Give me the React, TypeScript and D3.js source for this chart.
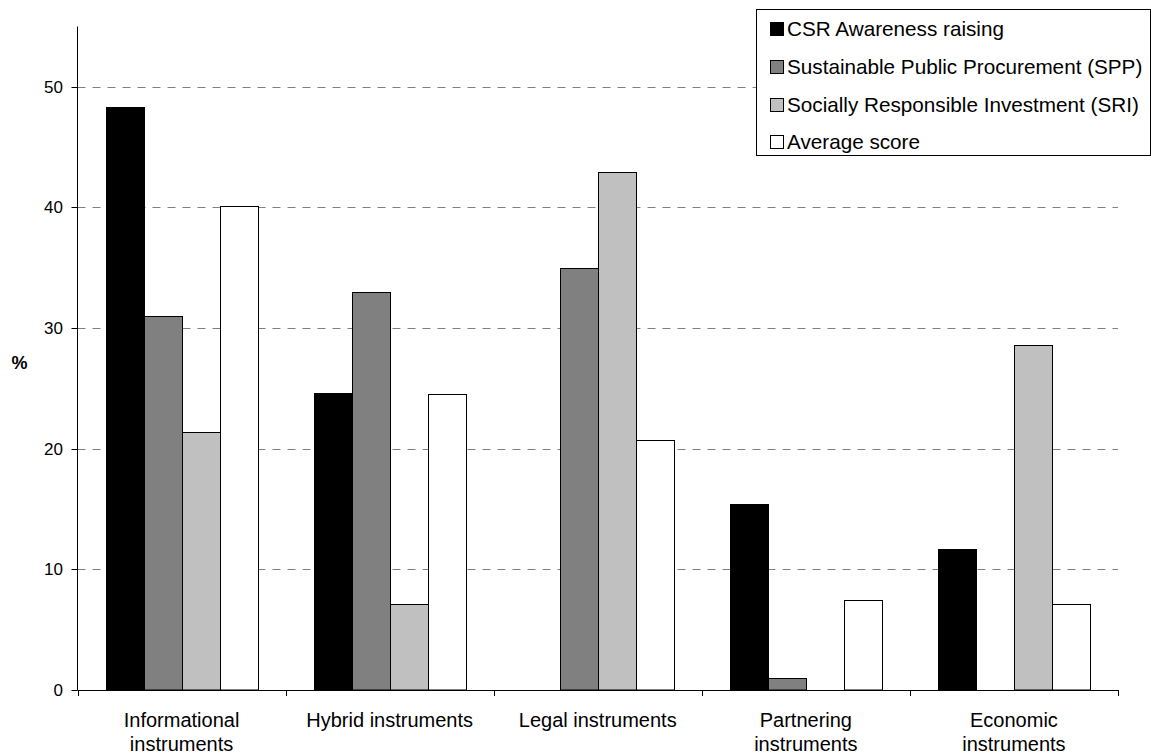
import React from "react";
import * as d3 from "d3";

const categories: string[][] = [
  ["Informational", "instruments"],
  ["Hybrid instruments"],
  ["Legal instruments"],
  ["Partnering", "instruments"],
  ["Economic", "instruments"],
];
const seriesNames = [
  "CSR Awareness raising",
  "Sustainable Public Procurement (SPP)",
  "Socially Responsible Investment (SRI)",
  "Average score",
];
const csr = [48.3, 24.6, 0, 15.4, 11.7];
const spp = [31.0, 33.0, 35.0, 1.0, 0];
const sri = [21.4, 7.1, 42.9, 0, 28.6];
const avg = [40.1, 24.5, 20.7, 7.5, 7.1];
const yTicks = [0, 10, 20, 30, 40, 50];
const colors = ["#000000", "#808080", "#c0c0c0", "#ffffff"];

export default function App() {
  const W = 1151, H = 756;
  const left = 77.5, right = 1118, top = 26.5, bottom = 690;
  const series = [csr, spp, sri, avg];
  const y = d3.scaleLinear().domain([0, 55]).range([bottom, top]);
  const x0 = d3.scaleBand<number>().domain(d3.range(categories.length)).range([left, right]).padding(0);
  const bw = x0.bandwidth();
  const x1 = d3.scaleBand<number>().domain(d3.range(4)).range([bw * 0.135, bw * 0.865]).padding(0);
  const font = "Arial, 'Liberation Sans', sans-serif";
  const legendY = [29, 67, 105, 142];
  return (
    <svg width={W} height={H} style={{ position: "absolute", left: 0, top: 0, background: "#fff" }} fontFamily={font}>
      {yTicks.filter(t => t > 0).map(t => (
        <line key={"g" + t} x1={left} x2={right} y1={Math.round(y(t)) + 0.5} y2={Math.round(y(t)) + 0.5}
          stroke="#808080" strokeDasharray="8,7" strokeWidth={1} />
      ))}
      {series.map((s, si) =>
        s.map((v, ci) => {
          if (v <= 0) return null;
          const bx = Math.round(x0(ci)! + x1(si)!) + 0.5;
          const bx2 = Math.round(x0(ci)! + x1(si)! + x1.bandwidth()) + 0.5;
          const by = Math.round(y(v)) + 0.5;
          return (
            <rect key={si + "-" + ci} x={bx} y={by} width={bx2 - bx} height={bottom - by}
              fill={colors[si]} stroke="#000" strokeWidth={1} />
          );
        })
      )}
      <line x1={left} x2={left} y1={top} y2={bottom} stroke="#000" />
      <line x1={left} x2={right} y1={bottom + 0.5} y2={bottom + 0.5} stroke="#000" />
      {yTicks.map(t => (
        <g key={"t" + t}>
          <line x1={left - 6} x2={left} y1={Math.round(y(t)) + 0.5} y2={Math.round(y(t)) + 0.5} stroke="#000" />
          <text x={63} y={y(t)} dy="0.35em" textAnchor="end" fontSize={17} fill="#000">{t}</text>
        </g>
      ))}
      {d3.range(categories.length + 1).map(i => {
        const tx = Math.round(left + i * bw) + 0.5;
        return <line key={"xt" + i} x1={tx} x2={tx} y1={bottom} y2={bottom + 6} stroke="#000" />;
      })}
      {categories.map((lines, ci) => (
        <text key={"c" + ci} x={x0(ci)! + bw / 2} y={720} textAnchor="middle" fontSize={20} fill="#000">
          {lines.map((l, li) => (
            <tspan key={li} x={x0(ci)! + bw / 2} dy={li === 0 ? "0.35em" : 24}>{l}</tspan>
          ))}
        </text>
      ))}
      <text x={19.5} y={363} dy="0.35em" textAnchor="middle" fontSize={18} fontWeight="bold" fill="#000">%</text>
      <rect x={756.5} y={9.5} width={394} height={146} fill="#fff" stroke="#000" />
      {seriesNames.map((n, i) => (
        <g key={"l" + i}>
          <rect x={770.5} y={legendY[i] - 6.5} width={13} height={13} fill={colors[i]} stroke="#000" />
          <text x={787} y={legendY[i]} dy="0.35em" fontSize={20.7} fill="#000">{n}</text>
        </g>
      ))}
    </svg>
  );
}
